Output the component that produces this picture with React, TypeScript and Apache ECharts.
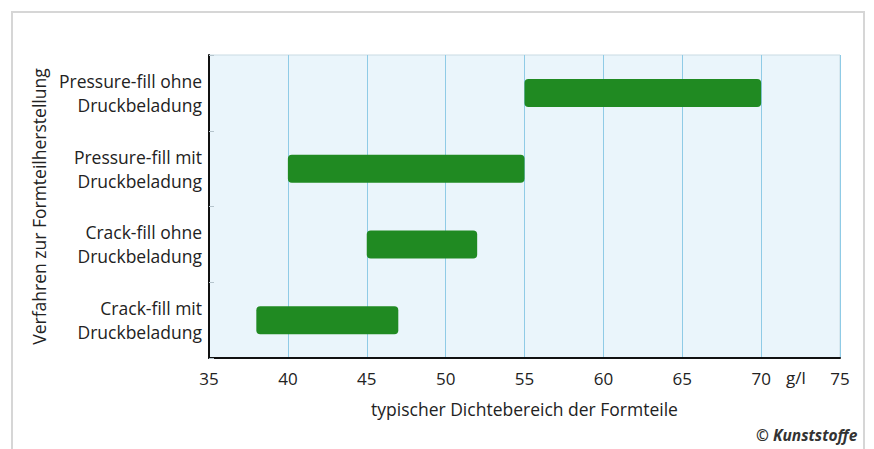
import React, { useEffect, useRef } from "react";
import * as echarts from "echarts";

const categories = [
  "Pressure-fill ohne\nDruckbeladung",
  "Pressure-fill mit\nDruckbeladung",
  "Crack-fill ohne\nDruckbeladung",
  "Crack-fill mit\nDruckbeladung",
];
const rangeStart = [55, 40, 45, 38];
const rangeEnd = [70, 55, 52, 47];
const xTicks = [35, 40, 45, 50, 55, 60, 65, 70, 75];

const FONT = "'Open Sans', 'Noto Sans', sans-serif";

export default function App() {
  const ref = useRef<HTMLDivElement>(null);
  useEffect(() => {
    if (!ref.current) return;
    const chart = echarts.init(ref.current, null, { renderer: "svg" });
    chart.setOption({
      animation: false,
      backgroundColor: "#ffffff",
      grid: {
        left: 209,
        right: 34,
        top: 55,
        bottom: 91,
        show: true,
        backgroundColor: "#eaf5fb",
        borderColor: "#c9dbe3",
        borderWidth: 1,
      },
      xAxis: {
        type: "value",
        min: xTicks[0],
        max: xTicks[xTicks.length - 1],
        interval: 5,
        name: "typischer Dichtebereich der Formteile",
        nameLocation: "middle",
        nameGap: 42,
        nameTextStyle: { fontFamily: FONT, fontSize: 17.5, color: "#222" },
        axisLine: { show: true, lineStyle: { color: "#111", width: 2 } },
        axisTick: { show: false },
        axisLabel: {
          margin: 12,
          fontFamily: FONT,
          fontSize: 17,
          color: "#222",
        },
        splitLine: { show: true, lineStyle: { color: "#8fcbe6", width: 1 } },
      },
      yAxis: {
        type: "category",
        data: categories,
        inverse: true,
        name: "Verfahren zur Formteilherstellung",
        nameLocation: "middle",
        nameGap: 158,
        nameTextStyle: { fontFamily: FONT, fontSize: 17.5, color: "#222" },
        axisLine: { show: true, lineStyle: { color: "#111", width: 2 } },
        axisTick: { show: true, inside: true, length: 5, lineStyle: { color: "#b5c4cc" } },
        axisLabel: {
          margin: 7,
          fontFamily: FONT,
          fontSize: 17.5,
          lineHeight: 24,
          color: "#222",
          align: "right",
        },
        splitLine: { show: false },
      },
      series: [
        {
          type: "bar",
          stack: "r",
          data: rangeStart,
          itemStyle: { color: "transparent" },
          barWidth: 28,
          silent: true,
        },
        {
          type: "bar",
          stack: "r",
          data: rangeEnd.map((e, i) => e - rangeStart[i]),
          itemStyle: { color: "#208a22", borderRadius: 4 },
          barWidth: 28,
        },
      ],
      graphic: [
        {
          type: "rect",
          shape: { x: 12, y: 12, width: 852, height: 440 },
          style: { fill: "none", stroke: "#d6d6d6", lineWidth: 2 },
          silent: true,
        },
        {
          type: "text",
          x: 786,
          y: 369,
          style: { text: "g/l", fontFamily: FONT, fontSize: 17, fill: "#222" },
        },
        {
          type: "text",
          x: 756,
          y: 427,
          style: {
            text: "© Kunststoffe",
            fontFamily: FONT,
            fontSize: 15.5,
            fontWeight: "bold",
            fontStyle: "italic",
            fill: "#333",
          },
        },
      ],
    });
    return () => chart.dispose();
  }, []);
  return (
    <div
      ref={ref}
      style={{ position: "fixed", left: 0, top: 0, width: 874, height: 449 }}
    />
  );
}
